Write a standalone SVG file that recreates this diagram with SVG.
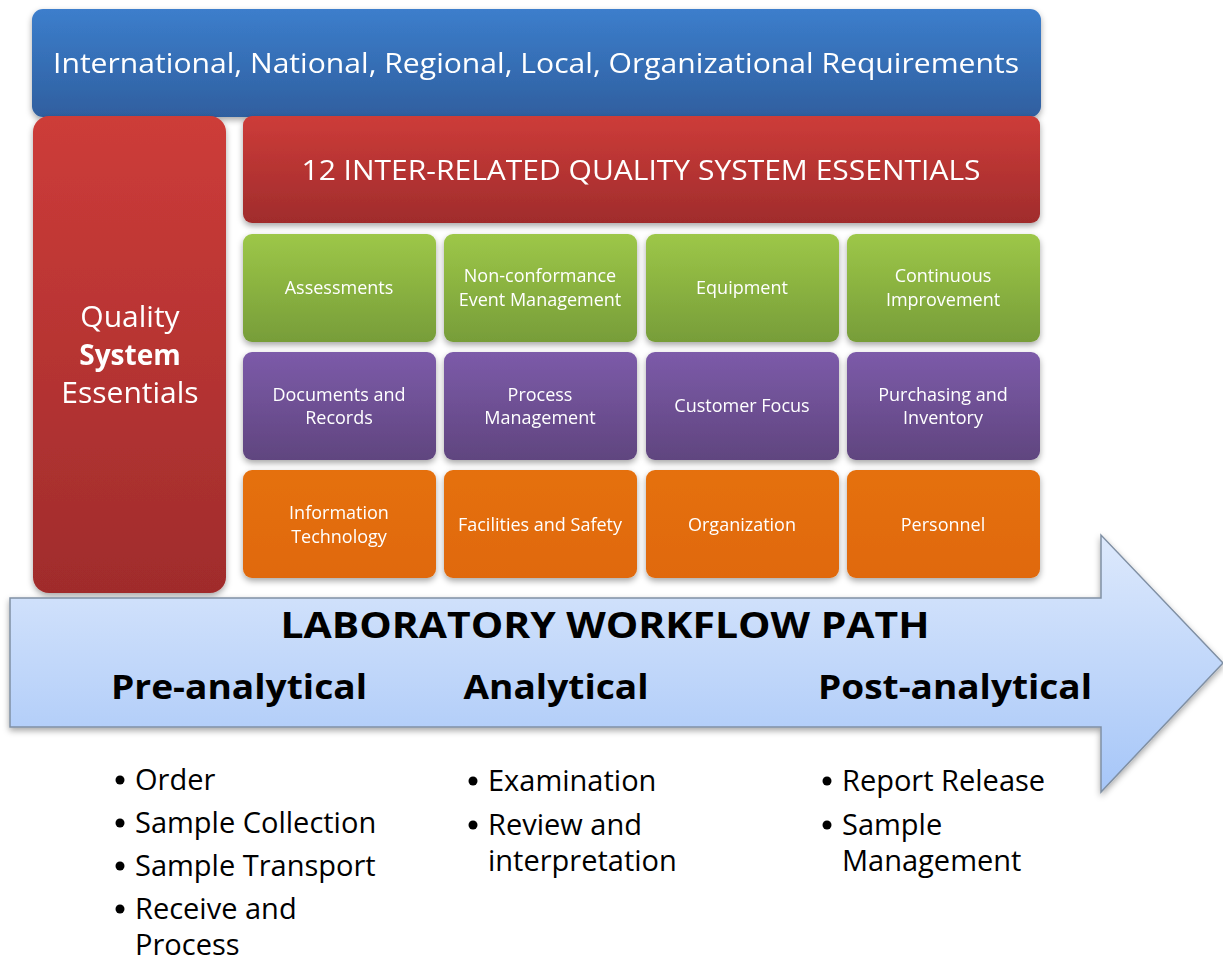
<svg xmlns="http://www.w3.org/2000/svg" width="1223" height="968" viewBox="0 0 1223 968">
<defs>
<linearGradient id="gBlue" x1="0" y1="0" x2="0" y2="1"><stop offset="0" stop-color="#3C7ECC"/><stop offset="1" stop-color="#2F5F9F"/></linearGradient>
<linearGradient id="gRed" x1="0" y1="0" x2="0" y2="1"><stop offset="0" stop-color="#CD3C39"/><stop offset="1" stop-color="#A02C2C"/></linearGradient>
<linearGradient id="gGreen" x1="0" y1="0" x2="0" y2="1"><stop offset="0" stop-color="#9DC748"/><stop offset="1" stop-color="#779D39"/></linearGradient>
<linearGradient id="gPurple" x1="0" y1="0" x2="0" y2="1"><stop offset="0" stop-color="#7C5BA9"/><stop offset="1" stop-color="#60457F"/></linearGradient>
<linearGradient id="gOrange" x1="0" y1="0" x2="0" y2="1"><stop offset="0" stop-color="#E5700F"/><stop offset="1" stop-color="#E0690B"/></linearGradient>
<linearGradient id="gArrow" x1="0" y1="0" x2="0" y2="1"><stop offset="0" stop-color="#DDE9FC"/><stop offset="1" stop-color="#A6C6F8"/></linearGradient>
<filter id="sh" x="-10%" y="-10%" width="120%" height="130%"><feDropShadow dx="0" dy="3" stdDeviation="3" flood-color="#000" flood-opacity="0.35"/></filter>
</defs>
<style>
.w{fill:#fff;font-family:"Open Sans","Noto Sans",sans-serif;text-anchor:middle}
.c{font-size:18px}
.k{fill:#000;font-family:"Open Sans","Noto Sans",sans-serif}
.b{font-weight:bold;text-anchor:middle}
.l{font-size:29px}
</style>
<g id="requirements" filter="url(#sh)">
<rect x="32" y="9" width="1009" height="108" rx="11" fill="url(#gBlue)"/>
<text class="w" x="536" y="73" font-size="27" textLength="966" lengthAdjust="spacingAndGlyphs">International, National, Regional, Local, Organizational Requirements</text>
</g>
<g id="quality-system" filter="url(#sh)">
<rect x="33" y="116" width="193" height="477" rx="16" fill="url(#gRed)"/>
<text class="w" font-size="30"><tspan x="130" y="327">Quality</tspan><tspan x="130" y="365" font-weight="bold" font-size="28">System</tspan><tspan x="130" y="403">Essentials</tspan></text>
</g>
<g id="header" filter="url(#sh)">
<rect x="243" y="116" width="797" height="107" rx="9" fill="url(#gRed)"/>
<text class="w" x="641" y="180" font-size="27" textLength="679" lengthAdjust="spacingAndGlyphs">12 INTER-RELATED QUALITY SYSTEM ESSENTIALS</text>
</g>
<g id="assessments" filter="url(#sh)"><rect x="243" y="234" width="193" height="108" rx="9" fill="url(#gGreen)"/><text class="w c" x="339" y="294">Assessments</text></g>
<g id="nonconformance" filter="url(#sh)"><rect x="444" y="234" width="193" height="108" rx="9" fill="url(#gGreen)"/><text class="w c"><tspan x="540" y="282">Non-conformance</tspan><tspan x="540" y="306">Event Management</tspan></text></g>
<g id="equipment" filter="url(#sh)"><rect x="646" y="234" width="193" height="108" rx="9" fill="url(#gGreen)"/><text class="w c" x="742" y="294">Equipment</text></g>
<g id="continuous-improvement" filter="url(#sh)"><rect x="847" y="234" width="193" height="108" rx="9" fill="url(#gGreen)"/><text class="w c"><tspan x="943" y="282">Continuous</tspan><tspan x="943" y="306">Improvement</tspan></text></g>
<g id="documents" filter="url(#sh)"><rect x="243" y="352" width="193" height="108" rx="9" fill="url(#gPurple)"/><text class="w c"><tspan x="339" y="401">Documents and</tspan><tspan x="339" y="424">Records</tspan></text></g>
<g id="process-management" filter="url(#sh)"><rect x="444" y="352" width="193" height="108" rx="9" fill="url(#gPurple)"/><text class="w c"><tspan x="540" y="401">Process</tspan><tspan x="540" y="424">Management</tspan></text></g>
<g id="customer-focus" filter="url(#sh)"><rect x="646" y="352" width="193" height="108" rx="9" fill="url(#gPurple)"/><text class="w c" x="742" y="412">Customer Focus</text></g>
<g id="purchasing" filter="url(#sh)"><rect x="847" y="352" width="193" height="108" rx="9" fill="url(#gPurple)"/><text class="w c"><tspan x="943" y="401">Purchasing and</tspan><tspan x="943" y="424">Inventory</tspan></text></g>
<g id="information-technology" filter="url(#sh)"><rect x="243" y="470" width="193" height="108" rx="9" fill="url(#gOrange)"/><text class="w c"><tspan x="339" y="519">Information</tspan><tspan x="339" y="543">Technology</tspan></text></g>
<g id="facilities" filter="url(#sh)"><rect x="444" y="470" width="193" height="108" rx="9" fill="url(#gOrange)"/><text class="w c" x="540" y="531">Facilities and Safety</text></g>
<g id="organization" filter="url(#sh)"><rect x="646" y="470" width="193" height="108" rx="9" fill="url(#gOrange)"/><text class="w c" x="742" y="531">Organization</text></g>
<g id="personnel" filter="url(#sh)"><rect x="847" y="470" width="193" height="108" rx="9" fill="url(#gOrange)"/><text class="w c" x="943" y="531">Personnel</text></g>
<g id="workflow-arrow">
<polygon points="10,598 1101,598 1101,535 1223,663 1101,792 1101,727 10,727" fill="url(#gArrow)" stroke="#8090A4" stroke-width="1.5" filter="url(#sh)"/>
<text class="k b" x="605" y="638" font-size="35" textLength="649" lengthAdjust="spacingAndGlyphs">LABORATORY WORKFLOW PATH</text>
<text class="k b" x="239" y="699" font-size="34" textLength="256" lengthAdjust="spacingAndGlyphs">Pre-analytical</text>
<text class="k b" x="556" y="699" font-size="34" textLength="185" lengthAdjust="spacingAndGlyphs">Analytical</text>
<text class="k b" x="955" y="699" font-size="34" textLength="274" lengthAdjust="spacingAndGlyphs">Post-analytical</text>
</g>
<g id="pre-analytical-list" class="k l">
<circle cx="120" cy="780" r="4.5"/><text x="135" y="790">Order</text>
<circle cx="120" cy="823" r="4.5"/><text x="135" y="833">Sample Collection</text>
<circle cx="120" cy="866" r="4.5"/><text x="135" y="876">Sample Transport</text>
<circle cx="120" cy="909" r="4.5"/><text><tspan x="135" y="919">Receive and</tspan><tspan x="135" y="955">Process</tspan></text>
</g>
<g id="analytical-list" class="k l">
<circle cx="473" cy="781" r="4.5"/><text x="488" y="791">Examination</text>
<circle cx="473" cy="825" r="4.5"/><text><tspan x="488" y="835">Review and</tspan><tspan x="488" y="871">interpretation</tspan></text>
</g>
<g id="post-analytical-list" class="k l">
<circle cx="827" cy="781" r="4.5"/><text x="842" y="791">Report Release</text>
<circle cx="827" cy="825" r="4.5"/><text><tspan x="842" y="835">Sample</tspan><tspan x="842" y="871">Management</tspan></text>
</g>
</svg>
